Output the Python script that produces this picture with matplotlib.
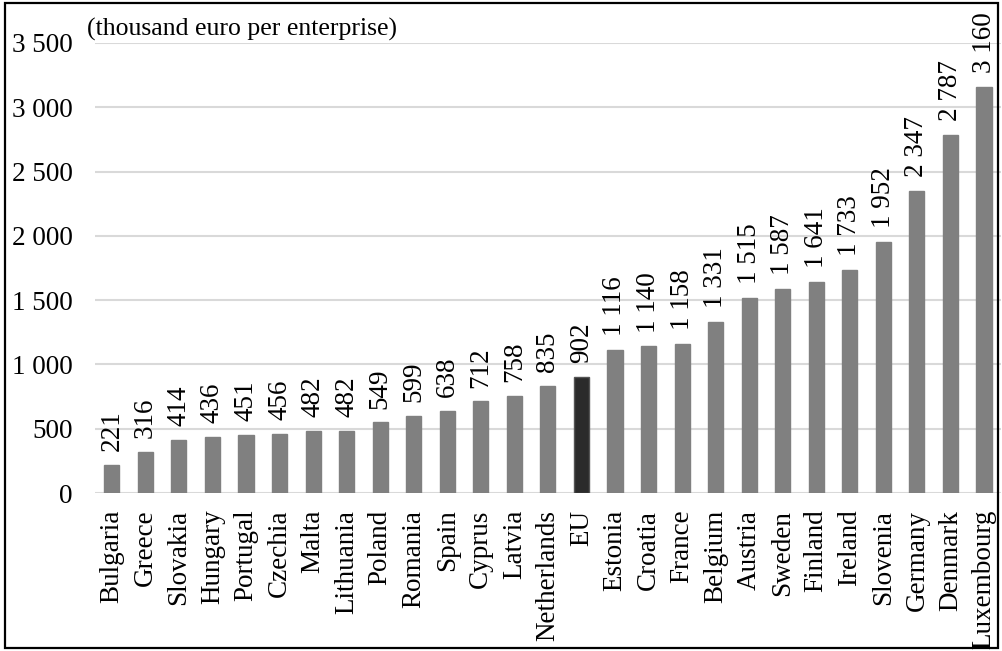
import matplotlib
matplotlib.use("Agg")
import matplotlib.pyplot as plt
from matplotlib.patches import Rectangle

# Data
countries = ["Bulgaria", "Greece", "Slovakia", "Hungary", "Portugal", "Czechia", "Malta",
             "Lithuania", "Poland", "Romania", "Spain", "Cyprus", "Latvia", "Netherlands",
             "EU", "Estonia", "Croatia", "France", "Belgium", "Austria", "Sweden", "Finland",
             "Ireland", "Slovenia", "Germany", "Denmark", "Luxembourg"]
values = [221, 316, 414, 436, 451, 456, 482, 482, 549, 599, 638, 712, 758, 835,
          902, 1116, 1140, 1158, 1331, 1515, 1587, 1641, 1733, 1952, 2347, 2787, 3160]
y_ticks = [0, 500, 1000, 1500, 2000, 2500, 3000, 3500]
unit_label = "(thousand euro per enterprise)"

plt.rcParams['font.family'] = ['Liberation Serif', 'DejaVu Serif']
FS = 19.5

def fmt(v):
    return f"{v:,}".replace(",", " ")

fig = plt.figure(figsize=(10.02, 6.51), dpi=100)
ax = fig.add_axes([0.0948, 0.2427, 0.904, 0.6913])

x = list(range(len(countries)))
colors = ["#2b2b2b" if c == "EU" else "#808080" for c in countries]
edges = ["#555555" if c == "EU" else "#808080" for c in countries]
ax.bar(x, values, width=0.45, color=colors, edgecolor=edges, linewidth=1, zorder=3)

# value labels above the bars
for xi, v in zip(x, values):
    ax.annotate(fmt(v), (xi, v), xytext=(0, 10), textcoords="offset points",
                rotation=90, ha="center", va="bottom", fontsize=FS)

ax.set_xlim(-0.5, len(countries) - 0.5)
ax.set_ylim(0, 3500)
ax.set_yticks(y_ticks)
ax.set_yticklabels([fmt(t) for t in y_ticks], fontsize=FS)
ax.set_xticks(x)
ax.set_xticklabels(countries, rotation=90, fontsize=FS)
ax.tick_params(axis="both", length=0)
ax.tick_params(axis="y", pad=16)
ax.tick_params(axis="x", pad=12)
ax.grid(axis="y", color="#d9d9d9", linewidth=1.5, zorder=0)
for s in ax.spines.values():
    s.set_visible(False)

fig.text(0.087, 1 - 36 / 651, unit_label, fontsize=18.5, ha="left", va="baseline")

# frame around the whole figure
fig.patches.append(Rectangle((5 / 1002, 3 / 651), 993 / 1002, 645 / 651, transform=fig.transFigure,
                             fill=False, edgecolor="black", linewidth=1.6, zorder=10))

fig.savefig("out.png", dpi=100)
